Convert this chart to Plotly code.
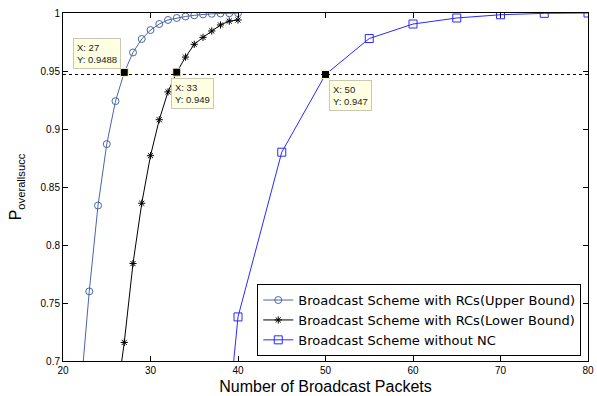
import plotly.graph_objects as go

# Packets sent vs. overall success probability
x_upper = [22, 23, 24, 25, 26, 27, 28, 29, 30, 31, 32, 33, 34, 35, 36, 37, 38, 39, 40]
y_upper = [0.672, 0.760, 0.834, 0.887, 0.924, 0.9488, 0.966, 0.9776, 0.9853, 0.9905,
           0.994, 0.9957, 0.997, 0.998, 0.9988, 0.9993, 0.9996, 0.9998, 0.9999]

x_lower = [26, 27, 28, 29, 30, 31, 32, 33, 34, 35, 36, 37, 38, 39, 40]
y_lower = [0.660, 0.716, 0.784, 0.836, 0.877, 0.908, 0.932, 0.949, 0.962, 0.973,
           0.979, 0.9845, 0.9897, 0.993, 0.994]

x_nonc = [35, 40, 45, 50, 55, 60, 65, 70, 75, 80]
y_nonc = [0.35, 0.738, 0.880, 0.947, 0.978, 0.9905, 0.9957, 0.9985, 0.9997, 1.0]

# Data-tip points
tip_x = [27, 33, 50]
tip_y = [0.9488, 0.949, 0.947]
tip_text = ["X: 27<br>Y: 0.9488", "X: 33<br>Y: 0.949", "X: 50<br>Y: 0.947"]
ref_level = 0.947

x_ticks = [20, 30, 40, 50, 60, 70, 80]
y_ticks = [0.7, 0.75, 0.8, 0.85, 0.9, 0.95, 1.0]
y_tick_labels = ["0.7", "0.75", "0.8", "0.85", "0.9", "0.95", "1"]

names = ["Broadcast Scheme with RCs(Upper Bound)",
         "Broadcast Scheme with RCs(Lower Bound)",
         "Broadcast Scheme without NC"]

font_family = "Liberation Sans, Arial, sans-serif"

fig = go.Figure()
fig.add_trace(go.Scatter(
    x=x_upper, y=y_upper, name=names[0], mode="lines+markers",
    line=dict(color="#4a66a8", width=1),
    marker=dict(symbol="circle-open", size=7, color="#4a66a8", line=dict(width=1)),
))
fig.add_trace(go.Scatter(
    x=x_lower, y=y_lower, name=names[1], mode="lines+markers",
    line=dict(color="black", width=1),
    marker=dict(symbol="asterisk-open", size=6, color="black", line=dict(width=1)),
))
fig.add_trace(go.Scatter(
    x=x_nonc, y=y_nonc, name=names[2], mode="lines+markers",
    line=dict(color="#2a2aff", width=1),
    marker=dict(symbol="square-open", size=8, color="#2a2aff", line=dict(width=1)),
))
fig.add_trace(go.Scatter(
    x=tip_x, y=tip_y, mode="markers", showlegend=False, hoverinfo="skip",
    marker=dict(symbol="square", size=8, color="black", line=dict(color="#ffffcc", width=1)),
))

fig.add_shape(type="line", xref="paper", yref="y", x0=0, x1=1, y0=ref_level, y1=ref_level,
              line=dict(color="black", width=1, dash="dot"))

tip_layout = [
    dict(xanchor="right", yanchor="bottom", xshift=-3, yshift=3),
    dict(xanchor="left", yanchor="top", xshift=-6, yshift=-6),
    dict(xanchor="left", yanchor="top", xshift=3, yshift=-6),
]
for tx, ty, tt, lay in zip(tip_x, tip_y, tip_text, tip_layout):
    fig.add_annotation(
        x=tx, y=ty, text=tt, showarrow=False, align="left",
        font=dict(family=font_family, size=9.5, color="#222222"),
        bgcolor="#ffffe1", bordercolor="#c8c8b4", borderwidth=1, borderpad=3,
        **lay,
    )

axis_common = dict(
    showgrid=False, zeroline=False, showline=True, linecolor="black", linewidth=1,
    mirror="ticks", ticks="inside", ticklen=5, tickcolor="black", automargin=False,
    tickfont=dict(family=font_family, size=10, color="black"),
)

fig.update_layout(
    width=597, height=396,
    margin=dict(l=63, r=9, t=13, b=35),
    paper_bgcolor="white", plot_bgcolor="white",
    font=dict(family=font_family, color="black"),
    xaxis=dict(range=[20, 80], tickvals=x_ticks,
               title=dict(text="Number of Broadcast Packets", font=dict(size=16), standoff=5),
               **axis_common),
    yaxis=dict(range=[0.7, 1.0], tickvals=y_ticks, ticktext=y_tick_labels,
               title=dict(text="P<sub>overallsucc</sub>", font=dict(size=16), standoff=14),
               **axis_common),
    legend=dict(x=0.37, y=0.221, xanchor="left", yanchor="top",
                bgcolor="white", bordercolor="black", borderwidth=1,
                font=dict(family="DejaVu Sans, sans-serif", size=13), tracegroupgap=0,
                itemwidth=30),
)

fig.write_html("out.html")
